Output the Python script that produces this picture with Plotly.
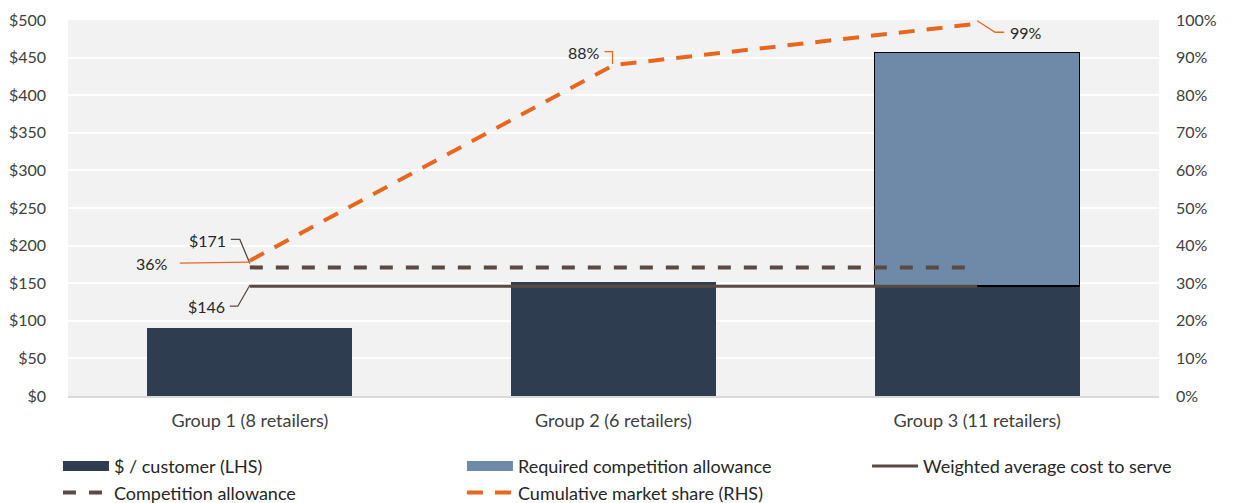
import plotly.graph_objects as go

# ---- data ----
groups = ["Group 1 (8 retailers)", "Group 2 (6 retailers)", "Group 3 (11 retailers)"]
cost_per_customer = [90, 151, 146]            # $ / customer (LHS)
required_allowance = [None, None, 311]        # stacked on top of group 3
weighted_avg_cost = [146, 146, 146]
competition_allowance = [171, 171, 171]
cumulative_share = [0.36, 0.88, 0.99]         # RHS

x = list(range(len(groups)))

DARK = "#2F3D51"
LIGHT = "#6F89A8"
BROWN = "#594A43"
ORANGE = "#E8671F"
FONT = "Lato"
TXT = "#404040"

fig = go.Figure()

# bars (their legend keys are drawn as wide swatches below)
fig.add_trace(go.Bar(x=x, y=cost_per_customer, name="$ / customer (LHS)",
                     marker=dict(color=DARK, line=dict(width=0)), width=0.564,
                     showlegend=False))
fig.add_trace(go.Bar(x=x, y=required_allowance, name="Required competition allowance",
                     marker=dict(color=LIGHT, line=dict(color="#000000", width=1.5)),
                     width=0.564, showlegend=False))
fig.add_trace(go.Scatter(x=x, y=weighted_avg_cost, name="Weighted average cost to serve",
                         mode="lines", line=dict(color=BROWN, width=3),
                         legend="legend3"))
fig.add_trace(go.Scatter(x=x, y=competition_allowance, name="Competition allowance",
                         mode="lines", line=dict(color=BROWN, width=4, dash="13px,13px"),
                         legend="legend", legendrank=2))
fig.add_trace(go.Scatter(x=x, y=cumulative_share, name="Cumulative market share (RHS)",
                         mode="lines", yaxis="y2",
                         line=dict(color=ORANGE, width=4, dash="16px,12px"),
                         legend="legend2", legendrank=2))

# wide legend swatches for the bar series
fig.add_trace(go.Scatter(x=[None], y=[None], name="$ / customer (LHS)", mode="lines",
                         line=dict(color=DARK, width=10), legend="legend",
                         legendrank=1, hoverinfo="skip"))
fig.add_trace(go.Scatter(x=[None], y=[None], name="Required competition allowance",
                         mode="lines", line=dict(color=LIGHT, width=10),
                         legend="legend2", legendrank=1, hoverinfo="skip"))

# ---- data labels with elbow leader lines (pixel offsets from the point) ----
labels = [
    (x[0], competition_allowance[0], "y", f"${competition_allowance[0]}",
     "M 0,4 L -10,28 L -19,28", BROWN, -22, 27, "right"),
    (x[0], weighted_avg_cost[0], "y", f"${weighted_avg_cost[0]}",
     "M 0,1 L -12,-20 L -20,-20", BROWN, -23, -20, "right"),
    (x[0], cumulative_share[0], "y2", f"{cumulative_share[0]:.0%}",
     "M 0,-1.5 L -70,-2.5", ORANGE, -80, -3, "right"),
    (x[1], cumulative_share[1], "y2", f"{cumulative_share[1]:.0%}",
     "M -1,1 L -1,13.5 L -9,13.5", ORANGE, -12, 13, "right"),
    (x[2], cumulative_share[2], "y2", f"{cumulative_share[2]:.0%}",
     "M 0,3 L 18,-8.5 L 27,-8.5", ORANGE, 31, -9, "left"),
]
for lx, ly, yref, text, path, col, xs, ys, xa in labels:
    fig.add_shape(type="path", path=path, xref="x", yref=yref,
                  xsizemode="pixel", ysizemode="pixel", xanchor=lx, yanchor=ly,
                  line=dict(color=col, width=1.3), layer="above")
    fig.add_annotation(x=lx, y=ly, xref="x", yref=yref, text=text, showarrow=False,
                       xanchor=xa, yanchor="middle", xshift=xs, yshift=ys,
                       font=dict(family=FONT, size=16, color="#262626"))

legend_style = dict(orientation="v", y=-0.138, yanchor="top", xanchor="left",
                    traceorder="normal", tracegroupgap=0, itemwidth=46,
                    font=dict(family=FONT, size=18, color="#262626"),
                    bgcolor="rgba(0,0,0,0)", borderwidth=0)

fig.update_layout(
    width=1235, height=503,
    margin=dict(l=68, r=76, t=20, b=107, autoexpand=False),
    barmode="stack",
    plot_bgcolor="#F2F2F2",
    paper_bgcolor="#FFFFFF",
    font=dict(family=FONT, size=16, color=TXT),
    xaxis=dict(range=[-0.5, 2.5], tickvals=x, ticktext=groups, showgrid=False,
               zeroline=False, showline=True, linecolor="#D9D9D9", linewidth=1.5,
               ticks="", ticklabelstandoff=8, tickfont=dict(size=18, color=TXT)),
    yaxis=dict(range=[0, 500], dtick=50, tickprefix="$", showgrid=True,
               gridcolor="#FFFFFF", gridwidth=1.5, zeroline=False, ticks="",
               ticklabelstandoff=21, tickfont=dict(size=16, color=TXT)),
    yaxis2=dict(range=[0, 1], dtick=0.1, tickformat=".0%", overlaying="y",
                side="right", showgrid=False, zeroline=False, ticks="",
                ticklabelstandoff=16, tickfont=dict(size=16, color=TXT)),
    showlegend=True,
    legend=dict(x=-0.0092, **legend_style),
    legend2=dict(x=0.3611, **legend_style),
    legend3=dict(x=0.7324, **legend_style),
)

fig.write_html("out.html")
